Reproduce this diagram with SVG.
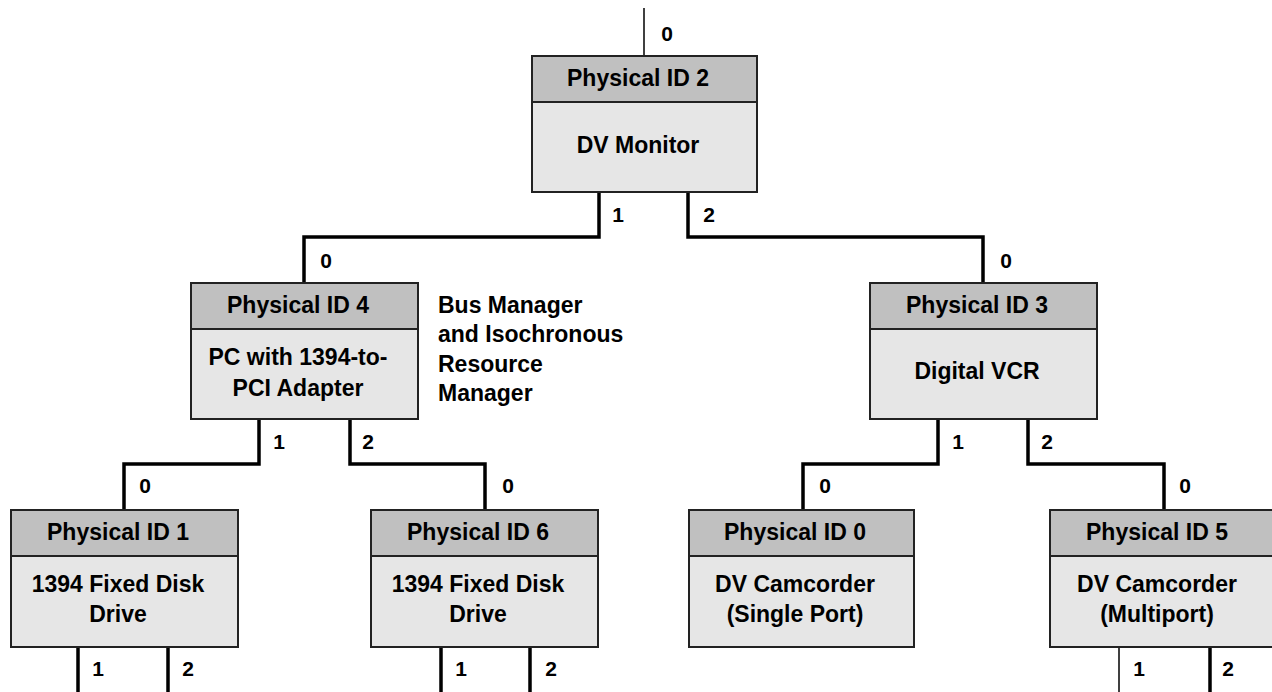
<svg xmlns="http://www.w3.org/2000/svg" width="1272" height="692" viewBox="0 0 1272 692">
<style>
text{font-family:"Liberation Sans",Arial,sans-serif;font-weight:bold;font-size:23px;fill:#000}
.c{text-anchor:middle}
.hd{fill:#c0c0c0;stroke:#222;stroke-width:2}
.bd{fill:#e6e6e6;stroke:#222;stroke-width:2}
.w{fill:none;stroke:#000;stroke-width:3.5}
.t{fill:none;stroke:#000;stroke-width:1.5}
.p{font-size:21px}
</style>
<rect width="1272" height="692" fill="#fff"/>
<g id="connectors">
<path class="t" d="M644 8V56"/>
<path class="w" d="M599 192V237H304V283"/>
<path class="w" d="M688 192V237H983V283"/>
<path class="w" d="M259 419V464H124V510"/>
<path class="w" d="M350 419V464H485V510"/>
<path class="w" d="M938 419V464H803V510"/>
<path class="w" d="M1028 419V464H1164V510"/>
<path class="w" d="M78 647V692M168 647V692"/>
<path class="w" d="M441 647V692M530 647V692"/>
<path class="t" d="M1119 647V692"/>
<path class="w" d="M1210 647V692"/>
<g class="p">
<text class="c p" x="667" y="41">0</text>
<text class="c p" x="618" y="222">1</text>
<text class="c p" x="709" y="222">2</text>
<text class="c p" x="326" y="268">0</text>
<text class="c p" x="1006" y="268">0</text>
<text class="c p" x="279" y="449">1</text>
<text class="c p" x="368" y="449">2</text>
<text class="c p" x="958" y="449">1</text>
<text class="c p" x="1047" y="449">2</text>
<text class="c p" x="145" y="493">0</text>
<text class="c p" x="508" y="493">0</text>
<text class="c p" x="825" y="493">0</text>
<text class="c p" x="1185" y="493">0</text>
<text class="c p" x="98" y="676">1</text>
<text class="c p" x="188" y="676">2</text>
<text class="c p" x="461" y="676">1</text>
<text class="c p" x="551" y="676">2</text>
<text class="c p" x="1139" y="676">1</text>
<text class="c p" x="1228" y="676">2</text>
</g>
</g>
<g id="node-pid2">
<rect class="bd" x="532" y="56" width="225" height="136"/>
<rect class="hd" x="532" y="56" width="225" height="46"/>
<text class="c" x="638" y="86">Physical ID 2</text>
<text class="c" x="638" y="153">DV Monitor</text>
</g>
<g id="node-pid4">
<rect class="bd" x="191" y="283" width="227" height="136"/>
<rect class="hd" x="191" y="283" width="227" height="46"/>
<text class="c" x="298" y="313">Physical ID 4</text>
<text class="c" x="298" y="365">PC with 1394-to-</text>
<text class="c" x="298" y="396">PCI Adapter</text>
</g>
<g id="note-bus-manager">
<text x="438" y="313">Bus Manager</text>
<text x="438" y="342">and Isochronous</text>
<text x="438" y="372">Resource</text>
<text x="438" y="401">Manager</text>
</g>
<g id="node-pid3">
<rect class="bd" x="870" y="283" width="227" height="136"/>
<rect class="hd" x="870" y="283" width="227" height="46"/>
<text class="c" x="977" y="313">Physical ID 3</text>
<text class="c" x="977" y="379">Digital VCR</text>
</g>
<g id="node-pid1">
<rect class="bd" x="11" y="510" width="227" height="137"/>
<rect class="hd" x="11" y="510" width="227" height="46"/>
<text class="c" x="118" y="540">Physical ID 1</text>
<text class="c" x="118" y="592">1394 Fixed Disk</text>
<text class="c" x="118" y="622">Drive</text>
</g>
<g id="node-pid6">
<rect class="bd" x="371" y="510" width="227" height="137"/>
<rect class="hd" x="371" y="510" width="227" height="46"/>
<text class="c" x="478" y="540">Physical ID 6</text>
<text class="c" x="478" y="592">1394 Fixed Disk</text>
<text class="c" x="478" y="622">Drive</text>
</g>
<g id="node-pid0">
<rect class="bd" x="689" y="510" width="225" height="137"/>
<rect class="hd" x="689" y="510" width="225" height="46"/>
<text class="c" x="795" y="540">Physical ID 0</text>
<text class="c" x="795" y="592">DV Camcorder</text>
<text class="c" x="795" y="622">(Single Port)</text>
</g>
<g id="node-pid5">
<rect class="bd" x="1050" y="510" width="227" height="137"/>
<rect class="hd" x="1050" y="510" width="227" height="46"/>
<text class="c" x="1157" y="540">Physical ID 5</text>
<text class="c" x="1157" y="592">DV Camcorder</text>
<text class="c" x="1157" y="622">(Multiport)</text>
</g>
</svg>
